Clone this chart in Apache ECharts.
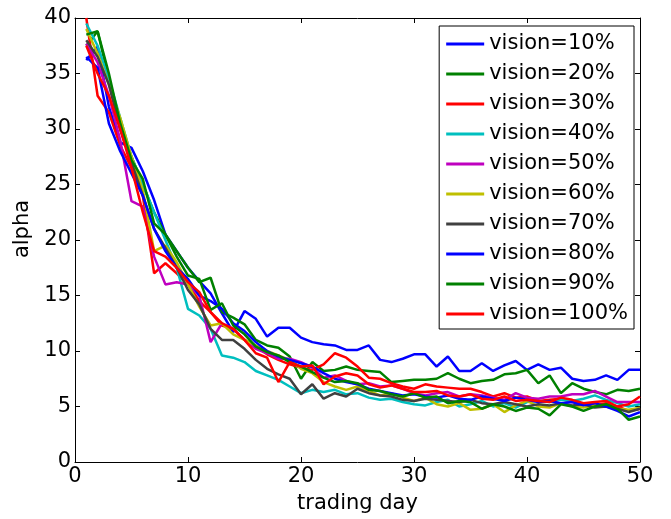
<!DOCTYPE html>
<html>
<head>
<meta charset="utf-8">
<script src="https://cdn.jsdelivr.net/npm/echarts@6/dist/echarts.min.js"></script>
<style>
html,body{margin:0;padding:0;background:#fff;}
#chart{width:671px;height:519px;}
</style>
</head>
<body>
<div id="chart"></div>
<script>
var days = [];
for (var d = 1; d <= 50; d++) days.push(d);

var seriesNames = ['vision=10%','vision=20%','vision=30%','vision=40%','vision=50%','vision=60%','vision=70%','vision=80%','vision=90%','vision=100%'];

var v10 = [36.2,37.4,32,28.8,28.3,26.2,23.6,20.5,19,17.5,16.3,15.2,13.4,11.7,13.6,12.9,11.3,12.1,12.1,11.2,10.8,10.6,10.5,10.1,10.1,10.5,9.2,9.0,9.3,9.7,9.7,8.6,9.5,8.2,8.2,8.9,8.2,8.7,9.1,8.3,8.8,8.3,8.5,7.5,7.3,7.4,7.8,7.4,8.3,8.3];
var v20 = [37.5,38.8,34.5,30,27.5,25,22.5,20.5,19,17.5,16.2,16.6,13.5,13,12.4,11,10.5,10.3,9.5,7.5,9.0,8.2,8.3,8.6,8.3,8.2,8.1,7.2,7.3,7.4,7.4,7.5,8.0,7.5,7.1,7.3,7.4,7.9,8.0,8.3,7.1,7.8,6.2,7.1,6.6,6.3,6.1,6.5,6.4,6.6];
var v30 = [40,33,31.5,28.5,26.5,24,17,17.9,17,16,14.5,13.5,12.3,12.0,11,10.4,9.7,9.2,8.8,8.5,8.3,8.8,9.8,9.4,8.6,7.6,7.5,7.1,6.8,6.6,7.0,6.8,6.7,6.6,6.6,6.3,5.9,6.2,5.8,5.9,5.5,5.6,5.7,5.4,5.2,5.1,5.3,5.0,4.6,4.8];
var v40 = [39.5,37.5,34.5,31,27.5,25,22.5,20,17.5,13.8,13.2,12,9.6,9.4,9.0,8.2,7.8,7.4,6.8,6.2,6.5,6.3,6.5,6.1,6.2,5.8,5.6,5.7,5.4,5.2,5.1,5.4,5.6,5.0,5.2,5.5,5.0,5.3,4.9,5.4,5.5,5.4,5.6,5.5,5.7,6.0,5.6,5.3,5.0,5.2];
var v50 = [37.7,36,33,29,23.5,23,18.5,16.0,16.2,16,15,10.8,12.5,12,11,10.2,9.8,9.3,9.3,9.0,8.5,7.6,7.8,7.3,7.0,7.1,6.8,6.9,6.6,6.2,6.0,6.2,6.3,5.9,6.1,6.0,5.8,5.6,6.2,5.8,5.7,5.9,5.9,6.1,6.1,6.4,5.9,5.4,5.4,5.4];
var v60 = [39,36.8,34,31,27.5,24.5,19,19.5,18,16,14,12.3,12.5,11.5,11,10.5,10,9.6,9.2,8.4,8.0,7.2,6.8,6.5,6.8,6.4,6.0,6.2,5.8,5.5,5.8,5.2,5.0,5.3,4.7,4.8,5.2,4.5,5.1,5.5,5.0,4.9,5.3,5.0,4.9,5.1,5.0,4.8,4.7,4.9];
var v70 = [38,36.5,34,30,27,24,21,19.3,17.5,15.5,14.2,12.0,11.0,11.0,10.2,9.2,8.4,7.9,7.5,6.1,7.0,5.7,6.2,5.9,6.6,6.2,6.0,5.9,5.6,5.5,5.7,5.6,5.5,5.4,5.6,5.3,5.2,5.4,5.2,5.0,5.2,5.1,5.3,5.1,5.2,4.9,5.0,4.8,4.5,4.8];
var v80 = [36.5,35.5,30.5,28,26,24,21,19.0,17.5,16.5,15,14.5,13.8,12.5,11.8,10.8,10.0,9.5,9.2,8.9,8.6,8.0,7.5,7.2,7.0,6.6,6.4,6.2,6.0,6.1,5.9,5.8,6.0,5.7,5.6,5.9,5.7,5.5,5.8,5.6,5.4,5.5,5.3,5.4,5.1,5.3,5.0,4.6,4.1,4.5];
var v90 = [38.5,38.8,35,30.5,27.2,25.5,21.5,20.5,18.5,16.8,16.5,13.7,14.3,12.3,11.5,10.4,9.9,9.6,9.0,8.6,8.1,7.6,7.2,7.3,7.1,6.5,6.4,6.1,5.9,6.2,5.8,5.9,5.3,5.5,5.4,4.8,5.2,5.0,4.6,4.9,4.8,4.2,5.2,5.0,4.6,5.0,5.2,4.8,3.8,4.1];
var v100 = [37.5,35,33,30,26.5,22.5,19,18.5,17.5,16.2,15.3,13.5,12.5,12.0,11.0,9.8,9.4,7.2,9.0,8.6,8.7,7.0,7.7,8.0,7.8,7.0,6.7,6.9,6.6,6.3,6.3,6.4,6.0,5.9,6.1,5.7,5.6,5.9,5.5,5.6,5.5,5.4,5.8,5.6,5.3,5.4,5.5,5.0,5.2,5.9];

var allValues = [v10,v20,v30,v40,v50,v60,v70,v80,v90,v100];
var colors = ['#0000ff','#008000','#ff0000','#00bfbf','#bf00bf','#bfbf00','#404040','#0000ff','#008000','#ff0000'];

var FONT = 'DejaVu Sans';

var series = allValues.map(function (vals, i) {
  return {
    name: seriesNames[i],
    type: 'line',
    data: days.map(function (dd, j) { return [dd, vals[j]]; }),
    symbol: 'none',
    showSymbol: false,
    lineStyle: { width: 2.5, color: colors[i] },
    itemStyle: { color: colors[i] },
    xAxisIndex: 0,
    yAxisIndex: 0,
    animation: false
  };
});

var chart = echarts.init(document.getElementById('chart'), null, { renderer: 'canvas' });
chart.setOption({
  animation: false,
  backgroundColor: '#ffffff',
  grid: { left: 75, right: 31, top: 18, bottom: 53, containLabel: false },
  legend: {
    show: true,
    orient: 'vertical',
    right: 37,
    top: 26,
    padding: [6, 6, 3, 7],
    itemGap: 6,
    itemWidth: 38,
    itemHeight: 3,
    icon: 'rect',
    backgroundColor: '#ffffff',
    borderColor: '#000000',
    borderWidth: 1,
    borderRadius: 0,
    textStyle: { fontFamily: FONT, fontSize: 21, color: '#000', lineHeight: 24 },
    data: seriesNames
  },
  xAxis: [{
    type: 'value', min: 0, max: 50, interval: 10, position: 'bottom',
    name: 'trading day', nameLocation: 'middle', nameGap: 31,
    nameTextStyle: { fontFamily: FONT, fontSize: 21, color: '#000' },
    axisLine: { show: true, onZero: false, lineStyle: { color: '#000', width: 1 } },
    axisTick: { show: true, inside: true, length: 5, lineStyle: { color: '#000' } },
    axisLabel: { fontFamily: FONT, fontSize: 21, color: '#000', margin: 4 },
    splitLine: { show: false }
  }, {
    type: 'value', min: 0, max: 50, interval: 10, position: 'top',
    axisLine: { show: true, onZero: false, lineStyle: { color: '#000', width: 1 } },
    axisTick: { show: true, inside: true, length: 5, lineStyle: { color: '#000' } },
    axisLabel: { show: false },
    splitLine: { show: false }
  }],
  yAxis: [{
    type: 'value', min: 0, max: 40, interval: 5, position: 'left',
    name: 'alpha', nameLocation: 'middle', nameGap: 41,
    nameTextStyle: { fontFamily: FONT, fontSize: 21, color: '#000', padding: [0, 0, 0, 22] },
    axisLine: { show: true, onZero: false, lineStyle: { color: '#000', width: 1 } },
    axisTick: { show: true, inside: true, length: 5, lineStyle: { color: '#000' } },
    axisLabel: { fontFamily: FONT, fontSize: 21, color: '#000', margin: 4 },
    splitLine: { show: false }
  }, {
    type: 'value', min: 0, max: 40, interval: 5, position: 'right',
    axisLine: { show: true, onZero: false, lineStyle: { color: '#000', width: 1 } },
    axisTick: { show: true, inside: true, length: 5, lineStyle: { color: '#000' } },
    axisLabel: { show: false },
    splitLine: { show: false }
  }],
  series: series
});
</script>
</body>
</html>
